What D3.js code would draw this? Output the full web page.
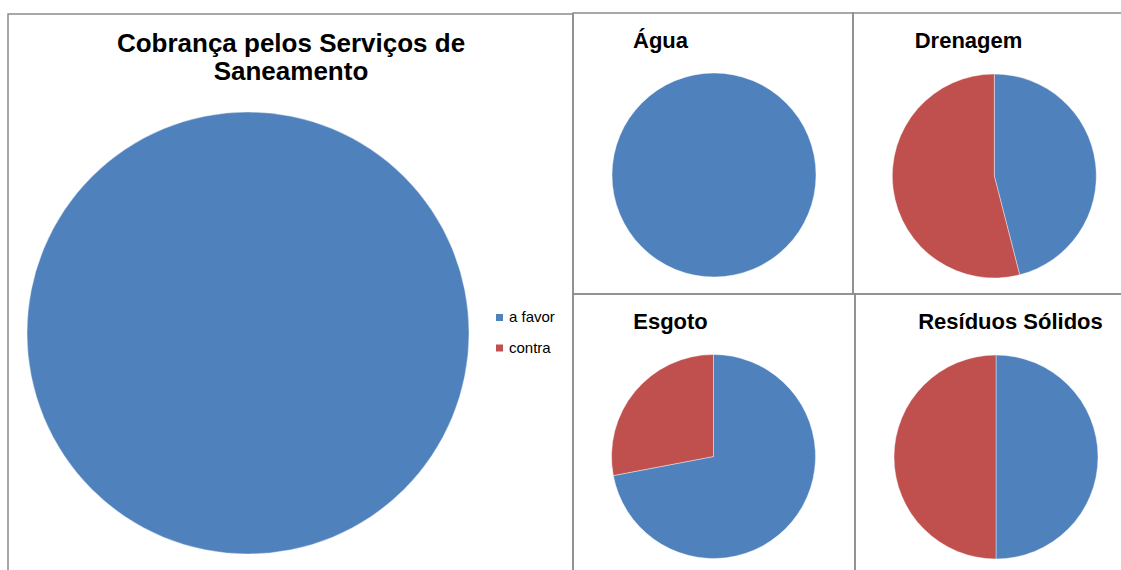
<!DOCTYPE html>
<html>
<head>
<meta charset="utf-8">
<script src="https://cdn.jsdelivr.net/npm/d3@7"></script>
<style>
  html, body { margin: 0; padding: 0; background: #fff; }
  svg { display: block; font-family: "Liberation Sans", Arial, sans-serif; }
</style>
</head>
<body>
<svg id="chart"></svg>
<script>
// Data
const categories = ['a favor', 'contra'];
const chartTitles = ['Cobrança pelos Serviços de Saneamento', 'Água', 'Drenagem', 'Esgoto', 'Resíduos Sólidos'];
const aFavor = [100, 100, 46, 72, 50];
const contra = [0, 0, 54, 28, 50];

const colors = d3.scaleOrdinal().domain(categories).range(['#4F81BD', '#C0504D']);

const width = 1121, height = 570;
const svg = d3.select('#chart').attr('width', width).attr('height', height);

// panel boxes (borders), pie centre/radius, title placement
const panels = [
  { x0: 8, y0: 14, x1: 573, y1: 600, cx: 248, cy: 333, r: 221, tx: 291, ty: [52, 80], size: 26, lines: ['Cobrança pelos Serviços de', 'Saneamento'] },
  { x0: 573, y0: 13, x1: 853, y1: 294, cx: 714, cy: 175, r: 102, tx: 660.5, ty: [47.5], size: 22 },
  { x0: 853, y0: 13, x1: 1140, y1: 294, cx: 994.3, cy: 176, r: 102, tx: 968.5, ty: [47.5], size: 22 },
  { x0: 573, y0: 294, x1: 855, y1: 600, cx: 713.5, cy: 456.5, r: 102, tx: 670.5, ty: [329], size: 22 },
  { x0: 855, y0: 294, x1: 1140, y1: 600, cx: 996, cy: 457, r: 102, tx: 1010.5, ty: [329], size: 22 },
];

const pie = d3.pie().sort(null).value(d => d.value);

panels.forEach((p, i) => {
  const g = svg.append('g');
  g.append('rect')
    .attr('x', p.x0).attr('y', p.y0)
    .attr('width', p.x1 - p.x0).attr('height', p.y1 - p.y0)
    .attr('fill', 'none')
    .attr('stroke', '#8c8c8c')
    .attr('stroke-width', 1.5);

  const data = categories.map((c, k) => ({ cat: c, value: k === 0 ? aFavor[i] : contra[i] }));
  const arc = d3.arc().innerRadius(0).outerRadius(p.r);

  g.append('g').attr('transform', `translate(${p.cx},${p.cy})`)
    .selectAll('path')
    .data(pie(data).filter(d => d.data.value > 0))
    .join('path')
    .attr('d', arc)
    .attr('fill', d => colors(d.data.cat))
    .attr('stroke', '#ffffff')
    .attr('stroke-width', 0.4);

  const lines = p.lines || [chartTitles[i]];
  lines.forEach((t, k) => {
    g.append('text')
      .attr('x', p.tx).attr('y', p.ty[k])
      .attr('text-anchor', 'middle')
      .attr('font-size', p.size + 'px')
      .attr('font-weight', 'bold')
      .attr('fill', '#000')
      .text(t);
  });
});

// Legend of the main chart
const legend = svg.append('g').attr('transform', 'translate(496,314)');
categories.forEach((c, k) => {
  legend.append('rect')
    .attr('x', 0).attr('y', k * 30.5)
    .attr('width', 7).attr('height', 7)
    .attr('fill', colors(c));
  legend.append('text')
    .attr('x', 13).attr('y', k * 30.5 + 8)
    .attr('font-size', '15px')
    .attr('fill', '#000')
    .text(c);
});
</script>
</body>
</html>
